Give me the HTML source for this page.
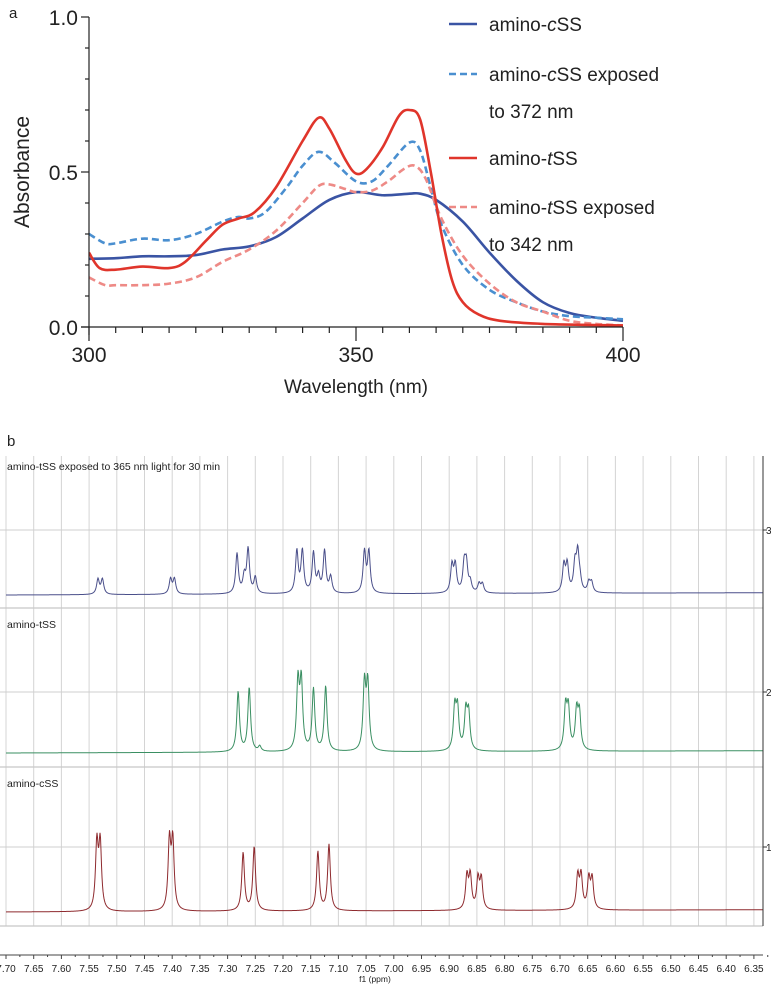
<!DOCTYPE html>
<html><head><meta charset="utf-8"><style>
html,body{margin:0;padding:0;background:#fff;}
svg{display:block;font-family:"Liberation Sans",Arial,sans-serif;}
</style></head><body>
<svg id="fig" width="771" height="995" viewBox="0 0 771 995">
<g id="uv"></g>
<g id="nmr"></g>
</svg>
<script>
// ---------- UV chart data ----------
const uvTicksX = [300, 350, 400];
const uvTicksY = [0.0, 0.5, 1.0];
const uvTickLabelsY = ["0.0", "0.5", "1.0"];
const cssX = [300,305,310,315,320,325,330,335,340,345,350,355,360,362,365,370,375,380,385,390,395,400];
const cssY = [0.22,0.222,0.228,0.228,0.232,0.25,0.26,0.29,0.35,0.41,0.435,0.425,0.43,0.43,0.41,0.34,0.24,0.15,0.08,0.045,0.03,0.02];
const cssExpX = [300,303,305,310,315,320,325,328,330,333,337,340,343,346,350,353,356,360,362,364,366,370,375,380,385,390,395,400];
const cssExpY = [0.30,0.27,0.27,0.285,0.28,0.30,0.34,0.355,0.35,0.37,0.45,0.52,0.565,0.53,0.47,0.47,0.52,0.595,0.57,0.45,0.33,0.2,0.12,0.08,0.05,0.035,0.03,0.025];
const tssX = [300,302,305,310,315,318,322,325,328,331,335,340,343,345,348,350,352,355,358,360,362,364,366,368,370,373,377,385,400];
const tssY = [0.24,0.19,0.185,0.195,0.19,0.21,0.28,0.33,0.35,0.37,0.45,0.6,0.675,0.64,0.54,0.495,0.51,0.58,0.68,0.70,0.67,0.5,0.3,0.15,0.08,0.04,0.02,0.01,0.005];
const tssExpX = [300,303,305,310,315,320,325,330,335,340,343,345,348,350,353,356,359,361,363,366,370,375,380,385,390,395,400];
const tssExpY = [0.16,0.135,0.135,0.135,0.14,0.16,0.21,0.25,0.31,0.40,0.455,0.46,0.445,0.435,0.44,0.47,0.51,0.52,0.48,0.35,0.23,0.14,0.08,0.05,0.02,0.01,0.005];

// ---------- NMR data (ppm, relative intensity) ----------
const nmrTicks = [7.70,7.65,7.60,7.55,7.50,7.45,7.40,7.35,7.30,7.25,7.20,7.15,7.10,7.05,7.00,6.95,6.90,6.85,6.80,6.75,6.70,6.65,6.60,6.55,6.50,6.45,6.40,6.35];
const nmrLevelLabels = ["3","2","1"];
const exposedPpm = [7.534,7.526,7.403,7.396,7.283,7.270,7.263,7.250,7.175,7.165,7.145,7.136,7.125,7.114,7.053,7.045,6.895,6.889,6.873,6.869,6.862,6.846,6.840,6.693,6.687,6.673,6.668,6.664,6.648,6.643];
const exposedInt = [0.15,0.15,0.15,0.15,0.40,0.16,0.44,0.16,0.42,0.42,0.40,0.16,0.42,0.16,0.41,0.41,0.27,0.27,0.27,0.27,0.10,0.09,0.09,0.27,0.27,0.27,0.37,0.10,0.10,0.10];
const tssPpm = [7.281,7.261,7.242,7.173,7.167,7.145,7.123,7.053,7.047,6.890,6.885,6.870,6.865,6.690,6.685,6.670,6.665];
const tssInt = [0.60,0.64,0.05,0.68,0.68,0.62,0.65,0.66,0.66,0.42,0.40,0.38,0.36,0.42,0.40,0.38,0.36];
const cssPpm = [7.536,7.530,7.405,7.399,7.272,7.252,7.137,7.117,6.868,6.862,6.848,6.842,6.668,6.662,6.648,6.642];
const cssInt = [0.66,0.66,0.68,0.68,0.58,0.64,0.59,0.66,0.33,0.33,0.30,0.30,0.33,0.33,0.30,0.30];

const NS = "http://www.w3.org/2000/svg";
function mk(parent, tag, attrs, text){
  const e = document.createElementNS(NS, tag);
  for (const k in attrs) e.setAttribute(k, attrs[k]);
  if (text !== undefined) e.textContent = text;
  parent.appendChild(e);
  return e;
}
function smoothPath(pts){
  let d = "M" + pts[0][0].toFixed(2) + "," + pts[0][1].toFixed(2);
  for (let i = 0; i < pts.length - 1; i++){
    const p0 = pts[Math.max(0,i-1)], p1 = pts[i], p2 = pts[i+1], p3 = pts[Math.min(pts.length-1,i+2)];
    const c1x = p1[0] + (p2[0]-p0[0])/6, c1y = p1[1] + (p2[1]-p0[1])/6;
    const c2x = p2[0] - (p3[0]-p1[0])/6, c2y = p2[1] - (p3[1]-p1[1])/6;
    d += " C" + c1x.toFixed(2)+","+c1y.toFixed(2)+" "+c2x.toFixed(2)+","+c2y.toFixed(2)+" "+p2[0].toFixed(2)+","+p2[1].toFixed(2);
  }
  return d;
}

// ---------- UV chart ----------
const uv = document.getElementById("uv");
const ux = v => 89 + (v - 300) / 100 * 534;
const uy = v => 327 - v * 310;

const panelA = mk(uv, "text", {x:9, y:18, "font-size":15, fill:"#222"}, "a");



const series = [
  {x: cssX, y: cssY, color: "#3a54a4", dash: null, name: "series-amino-css"},
  {x: cssExpX, y: cssExpY, color: "#4a8fd0", dash: "7,4", name: "series-amino-css-exposed"},
  {x: tssExpX, y: tssExpY, color: "#ee8a86", dash: "7,4", name: "series-amino-tss-exposed"},
  {x: tssX, y: tssY, color: "#e0352b", dash: null, name: "series-amino-tss"}
];
const clip = mk(uv, "clipPath", {id:"uvclip"});
mk(clip, "rect", {x:89, y:10, width:535, height:318});
series.forEach(s => {
  const pts = s.x.map((v,i) => [ux(v), uy(s.y[i])]);
  const p = mk(uv, "path", {d: smoothPath(pts), fill:"none", stroke:s.color, "stroke-width":2.6, "clip-path":"url(#uvclip)"});
  if (s.dash) p.setAttribute("stroke-dasharray", s.dash);
  
  
});
const yAxis = mk(uv, "line", {x1:89, y1:uy(1.0), x2:89, y2:uy(0)+8, stroke:"#222", "stroke-width":1.2});


const xAxis = mk(uv, "line", {x1:81, y1:uy(0), x2:ux(400), y2:uy(0), stroke:"#222", "stroke-width":1.2});


for (let v = 0; v <= 1.0001; v += 0.1){
  const major = Math.abs(v*2 - Math.round(v*2)) < 1e-6;
  mk(uv, "line", {x1:89-(major?8:4), y1:uy(v), x2:89, y2:uy(v), stroke:"#222", "stroke-width":1.2});
}
uvTicksY.forEach((v,i) => {
  const t = mk(uv, "text", {x:78, y:uy(v)+8, "font-size":21, "text-anchor":"end", fill:"#222"}, uvTickLabelsY[i]);
  
  
});
for (let v = 300; v <= 400; v += 5){
  const major = v % 50 === 0;
  mk(uv, "line", {x1:ux(v), y1:uy(0), x2:ux(v), y2:uy(0)+(major?14:6), stroke:"#222", "stroke-width":1.2});
}
uvTicksX.forEach(v => {
  const t = mk(uv, "text", {x:ux(v), y:362, "font-size":21, "text-anchor":"middle", fill:"#222"}, String(v));
  
  
});
const xTitle = mk(uv, "text", {x:356, y:393, "font-size":19, "text-anchor":"middle", fill:"#222"}, "Wavelength (nm)");


const yTitle = mk(uv, "text", {x:0, y:0, "font-size":21, "text-anchor":"middle", fill:"#222", transform:"translate(29,172) rotate(-90)"}, "Absorbance");



const legend = [
  {y:24, color:"#3a54a4", dash:null, lines:[["amino-","c","SS"]]},
  {y:74, color:"#4a8fd0", dash:"7,4", lines:[["amino-","c","SS exposed"],["to 372 nm"]]},
  {y:158, color:"#e0352b", dash:null, lines:[["amino-","t","SS"]]},
  {y:207, color:"#ee8a86", dash:"7,4", lines:[["amino-","t","SS exposed"],["to 342 nm"]]}
];
legend.forEach((l, idx) => {
  const g = mk(uv, "g", {});
  
  
  const ln = mk(g, "line", {x1:449, y1:l.y, x2:477, y2:l.y, stroke:l.color, "stroke-width":2.6});
  if (l.dash) ln.setAttribute("stroke-dasharray", l.dash);
  l.lines.forEach((parts, j) => {
    const t = mk(g, "text", {x:489, y:l.y + 7 + j*37, "font-size":19, fill:"#222"});
    parts.forEach((p, k) => {
      const ts = mk(t, "tspan", {}, p);
      if (k === 1) ts.setAttribute("font-style", "italic");
    });
  });
});

// ---------- NMR chart ----------
const nmr = document.getElementById("nmr");
const nx = p => 6 + (7.70 - p) * 554;
const panelB = mk(nmr, "text", {x:7, y:446, "font-size":15, fill:"#222"}, "b");



nmrTicks.forEach(p => {
  const g = mk(nmr, "line", {x1:nx(p), y1:456, x2:nx(p), y2:926, stroke:"#d4d4d4", "stroke-width":1});
  
  
});
const panels = [
  {grid:530, base:595, sep:608, color:"#4a4f8a", ppm:exposedPpm, inten:exposedInt, label:"amino-tSS exposed to 365 nm light for 30 min", ly:470, lvl:0, name:"spectrum-amino-tss-exposed"},
  {grid:692, base:753, sep:767, color:"#3a8f62", ppm:tssPpm, inten:tssInt, label:"amino-tSS", ly:628, lvl:1, name:"spectrum-amino-tss"},
  {grid:847, base:912, sep:926, color:"#8e2a2e", ppm:cssPpm, inten:cssInt, label:"amino-cSS", ly:787, lvl:2, name:"spectrum-amino-css"}
];
const ppx = 100;
const hw = 0.0029;
panels.forEach(pn => {
  mk(nmr, "line", {x1:0, y1:pn.grid, x2:763, y2:pn.grid, stroke:"#cfcfcf", "stroke-width":1});
  mk(nmr, "line", {x1:0, y1:pn.sep, x2:763, y2:pn.sep, stroke:"#c8c8c8", "stroke-width":1.3});
  const lt = mk(nmr, "text", {x:7, y:pn.ly, "font-size":10.5, fill:"#222"}, pn.label);
  
  
  mk(nmr, "line", {x1:763, y1:pn.grid, x2:767, y2:pn.grid, stroke:"#333", "stroke-width":1});
  const tl = mk(nmr, "text", {x:766, y:pn.grid+4, "font-size":10, fill:"#222"}, nmrLevelLabels[pn.lvl]);
  
  
  let d = "";
  for (let px = 6; px <= 763; px += 0.5){
    const p = 7.70 - (px - 6) / 554;
    let v = 0;
    for (let i = 0; i < pn.ppm.length; i++){
      const dx = (p - pn.ppm[i]) / hw;
      v += pn.inten[i] / (1 + dx*dx);
    }
    const y = pn.base - v * ppx - (px - 6) * 0.003;
    d += (d ? " L" : "M") + px.toFixed(1) + "," + y.toFixed(2);
  }
  const sp = mk(nmr, "path", {d:d, fill:"none", stroke:pn.color, "stroke-width":1});
  
  
});
const rAxis = mk(nmr, "line", {x1:763, y1:456, x2:763, y2:926, stroke:"#333", "stroke-width":1});



const bAxis = mk(nmr, "line", {x1:0, y1:955, x2:763, y2:955, stroke:"#444", "stroke-width":1});


nmrTicks.forEach(p => {
  mk(nmr, "line", {x1:nx(p), y1:955, x2:nx(p), y2:959, stroke:"#444", "stroke-width":1});
  mk(nmr, "line", {x1:nx(p-0.025), y1:955, x2:nx(p-0.025), y2:957, stroke:"#444", "stroke-width":1});
  const t = mk(nmr, "text", {x:nx(p), y:972, "font-size":10, "text-anchor":"middle", fill:"#222"}, p.toFixed(2));
  
  
});
const bTitle = mk(nmr, "text", {x:375, y:982, "font-size":8.5, "text-anchor":"middle", fill:"#222"}, "f1 (ppm)");


</script>
</body></html>
